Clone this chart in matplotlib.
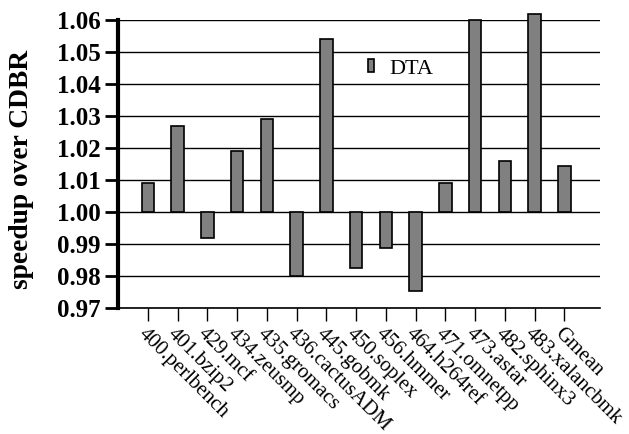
import matplotlib
matplotlib.use('Agg')
import numpy as np
import matplotlib.pyplot as plt

benchmarks = ['400.perlbench', '401.bzip2', '429.mcf', '434.zeusmp', '435.gromacs',
              '436.cactusADM', '445.gobmk', '450.soplex', '456.hmmer', '464.h264ref',
              '471.omnetpp', '473.astar', '482.sphinx3', '483.xalancbmk', 'Gmean']
dta = [1.009, 1.027, 0.992, 1.019, 1.029, 0.980, 1.054, 0.9824, 0.9888, 0.9755,
       1.009, 1.060, 1.016, 1.062, 1.0145]
yticks = [0.97, 0.98, 0.99, 1.00, 1.01, 1.02, 1.03, 1.04, 1.05, 1.06]

plt.rcParams['font.family'] = ['Liberation Serif', 'DejaVu Serif']

fig = plt.figure(figsize=(6.29, 4.34), dpi=100)
ax = fig.add_axes([0.1876, 0.290, 0.7664, 0.664])

x = np.arange(len(benchmarks))
bars = ax.bar(x, np.array(dta) - 1.0, bottom=1.0, width=0.42, color='#808080',
              edgecolor='black', linewidth=1.2, label='DTA', zorder=3)
for b in bars:
    b.set_clip_on(False)  # 483.xalancbmk pokes above the top line

ax.set_ylim(0.97, 1.06)
ax.set_xlim(-1.0, 15.2)
ax.set_yticks(yticks)
ax.set_yticklabels(['%.2f' % v for v in yticks], fontsize=18, fontweight='bold')
ax.yaxis.grid(True, color='black', linewidth=1.0, zorder=0)
ax.set_axisbelow(True)

ax.set_xticks(x)
ax.set_xticklabels(benchmarks, rotation=-45, ha='left', va='top',
                   rotation_mode='anchor', fontsize=15)
ax.tick_params(axis='x', length=9.5, width=1, direction='out', pad=2)
ax.tick_params(axis='y', length=9.5, width=2, direction='out', pad=3)

for side in ['top', 'right']:
    ax.spines[side].set_visible(False)
ax.spines['left'].set_linewidth(3)
ax.spines['bottom'].set_linewidth(1.2)

ax.set_ylabel('speedup over CDBR', fontsize=19.8, fontweight='bold', labelpad=12)
ax.yaxis.set_label_coords(-0.175, 0.48)

ax.legend(loc='center left', bbox_to_anchor=(0.477, 0.83), frameon=False,
          fontsize=16, handlelength=0.27, handleheight=0.54, handletextpad=0.7)

plt.savefig('out.png', dpi=100)
